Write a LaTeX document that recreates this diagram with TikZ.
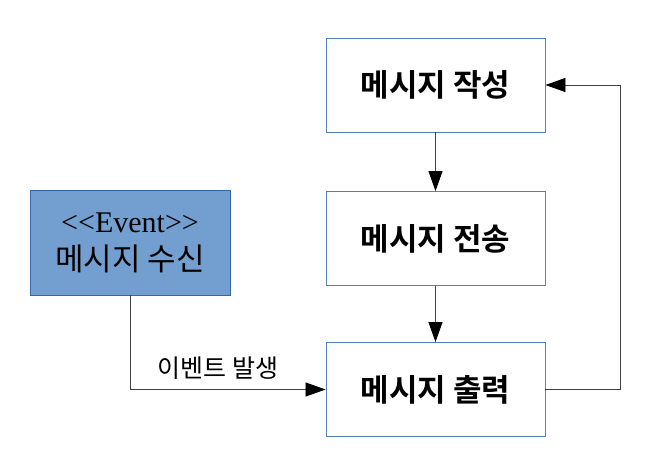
\documentclass[tikz,border=0pt]{standalone}
\usepackage{fontspec}
\setmainfont{Liberation Serif}
\newfontfamily\kr{Noto Sans CJK KR}
\newfontfamily\krb{Noto Sans CJK KR Bold}
\usetikzlibrary{arrows.meta}
\definecolor{boxline}{HTML}{4F81BD}
\definecolor{evfill}{HTML}{729FCF}
\definecolor{evline}{HTML}{3465A4}
\definecolor{lineclr}{HTML}{404040}
\begin{document}
\begin{tikzpicture}[x=1pt,y=-1pt,
  proc/.style={draw=boxline,line width=0.9pt,fill=white,minimum width=219pt,minimum height=94pt,inner sep=0pt,font=\krb\fontsize{31}{34}\selectfont},
  evbox/.style={draw=evline,line width=0.9pt,fill=evfill,minimum width=200pt,minimum height=105pt,inner sep=0pt,align=center},
  conn/.style={draw=lineclr,line width=0.8pt,-{Triangle[length=20pt,width=14pt,color=black]}}]
\useasboundingbox (0,0) rectangle (658,466);
\node[proc] (write) at (435.5,85) {메시지 작성};
\node[proc] (send) at (435.5,238.5) {메시지 전송};
\node[proc] (out) at (435.5,389.5) {메시지 출력};
\node[evbox] (ev) at (130,242.5) {{\fontsize{30}{32}\selectfont {<}{<}Event{>}{>}}\\[11pt]{\kr\fontsize{31}{34}\selectfont 메시지 수신}};
\coordinate (c1) at (130,389.5);
\coordinate (r1) at (620,389.5);
\coordinate (r2) at (620,85);
\draw[conn] (write) -- (send);
\draw[conn] (send) -- (out);
\draw[conn] (ev.south) -- (c1) -- node[pos=0.45,above=6pt,font=\kr\fontsize{25}{28}\selectfont,text=black] (lab) {이벤트 발생} (out.west);
\draw[conn] (out.east) -- (r1) -- (r2) -- (write.east);
\end{tikzpicture}
\end{document}
